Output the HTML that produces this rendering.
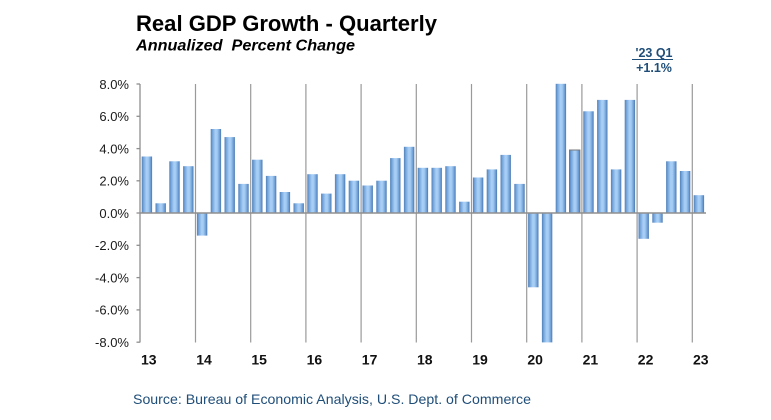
<!DOCTYPE html>
<html><head><meta charset="utf-8">
<style>
html,body{margin:0;padding:0;background:#fff;}
svg{display:block;}
text{font-family:"Liberation Sans",Arial,sans-serif;}
</style></head>
<body>
<svg width="771" height="420" viewBox="0 0 771 420" xmlns="http://www.w3.org/2000/svg">
<defs>
<linearGradient id="bg" x1="0" y1="0" x2="1" y2="0">
<stop offset="0" stop-color="#4f7fb8"/>
<stop offset="0.18" stop-color="#76a6dc"/>
<stop offset="0.45" stop-color="#a9cff5"/>
<stop offset="0.62" stop-color="#a3cbf3"/>
<stop offset="0.85" stop-color="#6f9fd6"/>
<stop offset="1" stop-color="#4a78b0"/>
</linearGradient>
</defs>
<rect width="771" height="420" fill="#fff"/>
<text x="136" y="31" font-size="22" font-weight="bold" fill="#000" textLength="301" lengthAdjust="spacingAndGlyphs">Real GDP Growth - Quarterly</text>
<text x="136" y="50.5" font-size="16" font-weight="bold" font-style="italic" fill="#000" textLength="219" lengthAdjust="spacingAndGlyphs" xml:space="preserve">Annualized  Percent Change</text>
<text x="654" y="57" font-size="12.5" font-weight="bold" fill="#1f4e79" text-anchor="middle">'23 Q1</text>
<line x1="632" y1="59.5" x2="673" y2="59.5" stroke="#1f4e79" stroke-width="1"/>
<text x="654" y="72" font-size="12.5" font-weight="bold" fill="#1f4e79" text-anchor="middle">+1.1%</text>

<g stroke="#9a9a9a" stroke-width="1.2">
<line x1="195.5" y1="84" x2="195.5" y2="342.5"/>
<line x1="250.7" y1="84" x2="250.7" y2="342.5"/>
<line x1="305.9" y1="84" x2="305.9" y2="342.5"/>
<line x1="361.1" y1="84" x2="361.1" y2="342.5"/>
<line x1="416.3" y1="84" x2="416.3" y2="342.5"/>
<line x1="471.5" y1="84" x2="471.5" y2="342.5"/>
<line x1="526.7" y1="84" x2="526.7" y2="342.5"/>
<line x1="581.9" y1="84" x2="581.9" y2="342.5"/>
<line x1="637.1" y1="84" x2="637.1" y2="342.5"/>
<line x1="692.3" y1="84" x2="692.3" y2="342.5"/>
</g>

<g fill="url(#bg)">
<rect x="141.7" y="156.5" width="10.4" height="56.5"/>
<rect x="155.5" y="203.3" width="10.4" height="9.7"/>
<rect x="169.3" y="161.3" width="10.4" height="51.7"/>
<rect x="183.1" y="166.2" width="10.4" height="46.8"/>
<rect x="196.9" y="213" width="10.4" height="22.6"/>
<rect x="210.7" y="129.0" width="10.4" height="84.0"/>
<rect x="224.5" y="137.1" width="10.4" height="75.9"/>
<rect x="238.3" y="183.9" width="10.4" height="29.1"/>
<rect x="252.1" y="159.7" width="10.4" height="53.3"/>
<rect x="265.9" y="175.9" width="10.4" height="37.1"/>
<rect x="279.7" y="192.0" width="10.4" height="21.0"/>
<rect x="293.5" y="203.3" width="10.4" height="9.7"/>
<rect x="307.3" y="174.2" width="10.4" height="38.8"/>
<rect x="321.1" y="193.6" width="10.4" height="19.4"/>
<rect x="334.9" y="174.2" width="10.4" height="38.8"/>
<rect x="348.7" y="180.7" width="10.4" height="32.3"/>
<rect x="362.5" y="185.5" width="10.4" height="27.5"/>
<rect x="376.3" y="180.7" width="10.4" height="32.3"/>
<rect x="390.1" y="158.1" width="10.4" height="54.9"/>
<rect x="403.9" y="146.8" width="10.4" height="66.2"/>
<rect x="417.7" y="167.8" width="10.4" height="45.2"/>
<rect x="431.5" y="167.8" width="10.4" height="45.2"/>
<rect x="445.3" y="166.2" width="10.4" height="46.8"/>
<rect x="459.1" y="201.7" width="10.4" height="11.3"/>
<rect x="472.9" y="177.5" width="10.4" height="35.5"/>
<rect x="486.7" y="169.4" width="10.4" height="43.6"/>
<rect x="500.5" y="154.9" width="10.4" height="58.1"/>
<rect x="514.3" y="183.9" width="10.4" height="29.1"/>
<rect x="528.1" y="213" width="10.4" height="74.3"/>
<rect x="541.9" y="213" width="10.4" height="129.4"/>
<rect x="555.7" y="83.8" width="10.4" height="129.2"/>
<rect x="569.5" y="150.0" width="10.4" height="63.0" stroke="#7a7a7a" stroke-width="1"/>
<rect x="583.3" y="111.3" width="10.4" height="101.7"/>
<rect x="597.1" y="99.9" width="10.4" height="113.1"/>
<rect x="610.9" y="169.4" width="10.4" height="43.6"/>
<rect x="624.7" y="99.9" width="10.4" height="113.1"/>
<rect x="638.5" y="213" width="10.4" height="25.8"/>
<rect x="652.3" y="213" width="10.4" height="9.7"/>
<rect x="666.1" y="161.3" width="10.4" height="51.7"/>
<rect x="679.9" y="171.0" width="10.4" height="42.0"/>
<rect x="693.7" y="195.2" width="10.4" height="17.8"/>
</g>

<g stroke="#8f8f8f" stroke-width="1.3">
<line x1="140" y1="84" x2="140" y2="342.5"/>
<line x1="140" y1="213" x2="706" y2="213" stroke-width="1.6"/>
<line x1="136.5" y1="84" x2="140" y2="84"/>
<line x1="136.5" y1="116.3" x2="140" y2="116.3"/>
<line x1="136.5" y1="148.6" x2="140" y2="148.6"/>
<line x1="136.5" y1="180.8" x2="140" y2="180.8"/>
<line x1="136.5" y1="213" x2="140" y2="213"/>
<line x1="136.5" y1="245.3" x2="140" y2="245.3"/>
<line x1="136.5" y1="277.6" x2="140" y2="277.6"/>
<line x1="136.5" y1="309.9" x2="140" y2="309.9"/>
<line x1="136.5" y1="342.2" x2="140" y2="342.2"/>
</g>

<g font-size="13" fill="#1a1a1a" text-anchor="end">
<text x="129" y="88.8">8.0%</text>
<text x="129" y="121.1">6.0%</text>
<text x="129" y="153.4">4.0%</text>
<text x="129" y="185.6">2.0%</text>
<text x="129" y="217.8">0.0%</text>
<text x="129" y="250.1">-2.0%</text>
<text x="129" y="282.4">-4.0%</text>
<text x="129" y="314.7">-6.0%</text>
<text x="129" y="347">-8.0%</text>
</g>

<g font-size="14" font-weight="bold" fill="#111">
<text x="141" y="364.5">13</text>
<text x="196.2" y="364.5">14</text>
<text x="251.4" y="364.5">15</text>
<text x="306.6" y="364.5">16</text>
<text x="361.8" y="364.5">17</text>
<text x="417" y="364.5">18</text>
<text x="472.2" y="364.5">19</text>
<text x="527.4" y="364.5">20</text>
<text x="582.6" y="364.5">21</text>
<text x="637.8" y="364.5">22</text>
<text x="693" y="364.5">23</text>
</g>

<text x="133" y="404" font-size="14" fill="#1f4e79" textLength="398" lengthAdjust="spacingAndGlyphs">Source: Bureau of Economic Analysis, U.S. Dept. of Commerce</text>
</svg>
</body></html>
